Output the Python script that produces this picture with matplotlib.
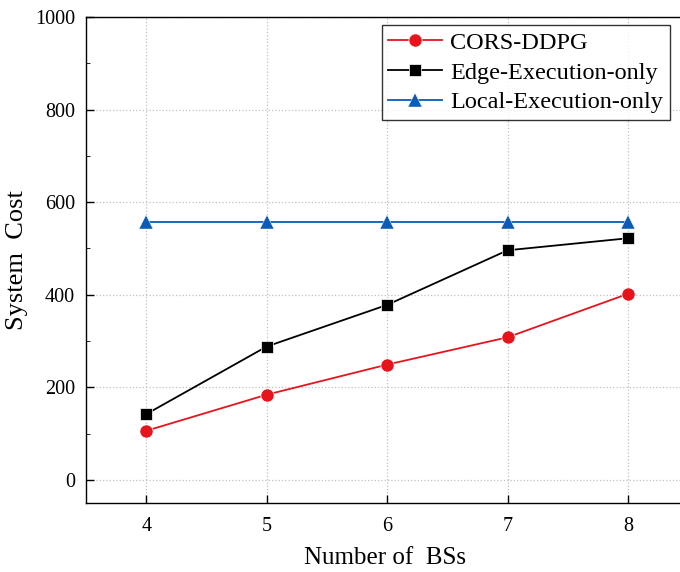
import numpy as np
import matplotlib
matplotlib.use("Agg")
import matplotlib.pyplot as plt
from matplotlib.ticker import MultipleLocator

plt.rcParams['font.family'] = ['Liberation Serif', 'DejaVu Serif']

# данные
bs = [4, 5, 6, 7, 8]
cors_ddpg = [106, 184, 249, 308, 402]
edge_only = [142, 288, 378, 496, 522]
local_only = [558, 558, 558, 558, 558]

fig = plt.figure(figsize=(6.8, 5.72), dpi=100)
# правая граница осей уходит за край картинки, как в оригинале
ax = fig.add_axes([86 / 680, 1 - 503 / 572, (684 - 86) / 680, (503 - 17) / 572])

ax.plot(bs, cors_ddpg, color='#e8141c', marker='o', markersize=9.5, linewidth=1.3,
        markeredgecolor='white', markeredgewidth=0.5, label='CORS-DDPG', zorder=3)
ax.plot(bs, edge_only, color='black', marker='s', markersize=9, linewidth=1.3,
        markeredgecolor='white', markeredgewidth=0.5, label='Edge-Execution-only', zorder=3)
ax.plot(bs, local_only, color='#0a5cb5', marker='^', markersize=10, linewidth=1.3,
        markeredgecolor='white', markeredgewidth=0.3, label='Local-Execution-only', zorder=3)

ax.set_xlim(3.5, 8 + 56 / 120.5)
ax.set_ylim(-50, 1000)
ax.set_xticks(bs)
ax.yaxis.set_major_locator(MultipleLocator(200))
ax.yaxis.set_minor_locator(MultipleLocator(100))
ax.tick_params(direction='in', labelsize=14.5, length=6, width=1)
ax.tick_params(which='minor', direction='in', length=3)
ax.tick_params(axis='x', pad=10)
ax.tick_params(axis='y', pad=8)
ax.grid(True, which='major', linestyle=':', color='#c0c0c0', linewidth=0.9)
for s in ax.spines.values():
    s.set_linewidth(1.0)

ax.set_xlabel('Number of  BSs', fontsize=18, labelpad=8)
ax.set_ylabel('System  Cost', fontsize=19, labelpad=5)

leg = ax.legend(loc='upper right', bbox_to_anchor=(670 / 680, 1 - 25 / 572),
                bbox_transform=fig.transFigure, fontsize=17.5, frameon=True,
                fancybox=False, edgecolor='black', borderaxespad=0, handlelength=2.2,
                labelspacing=0.32, borderpad=0.28, handletextpad=0.35)
leg.get_frame().set_linewidth(1.0)

fig.savefig('out.png', dpi=100)
